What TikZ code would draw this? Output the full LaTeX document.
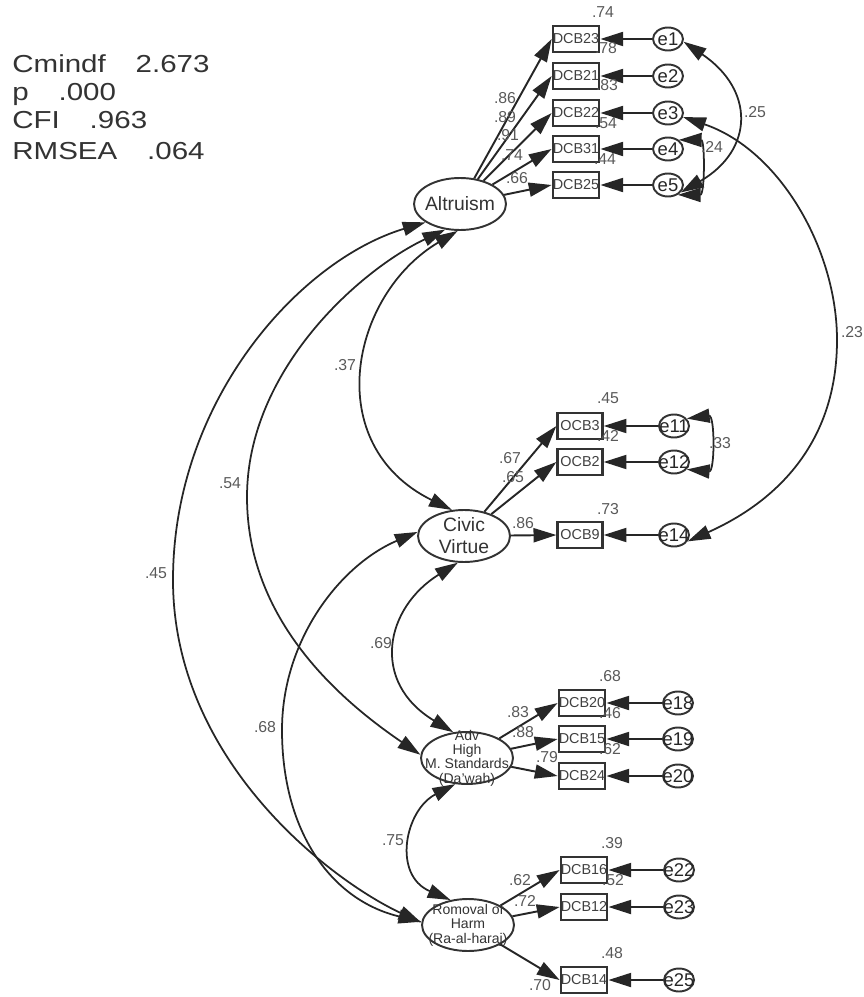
\documentclass[tikz,border=0pt]{standalone}
\usepackage{fontspec}
\setmainfont{Liberation Sans}
\newfontfamily\fitfont{Liberation Sans}[FakeStretch=1.2]
\usetikzlibrary{arrows.meta}
\usetikzlibrary{shapes.geometric}

\newcommand{\zw}[1]{\makebox[0pt]{#1}}

\tikzset{
  obs/.style={draw=black!80, line width=1.3pt, minimum width=0.9cm, minimum height=0.52cm,
    inner sep=0pt, font=\fontsize{8.2}{9}\selectfont, text=black!75},
  lat/.style={draw=black!80, line width=1.1pt, ellipse, minimum width=1.84cm,
    minimum height=1.04cm, inner sep=0pt},
  lattxt/.style={align=center, text=black!80, inner sep=0pt},
  err/.style={draw=black!80, line width=1.1pt, ellipse, minimum width=0.6cm,
    minimum height=0.46cm, inner sep=0pt, font=\fontsize{10.5}{11}\selectfont, text=black!85},
  num/.style={font=\fontsize{9}{10}\selectfont, text=black!65, inner sep=0pt},
  fitidx/.style={font=\fitfont\fontsize{14}{16}\selectfont, text=black!80, inner sep=0pt, anchor=base west},
  ldg/.style={draw=black!85, line width=1.1pt, -{Triangle[length=13pt,width=8pt]}},
  covar/.style={draw=black!85, line width=1pt,
    {Triangle[length=13pt,width=8pt]}-{Triangle[length=13pt,width=8pt]}},
}

\begin{document}
\begin{tikzpicture}[x=0.02cm,y=-0.02cm]
\useasboundingbox (0,0) rectangle (864,997);

% model fit
\node[fitidx] (cmin) at (12,72) {Cmindf\hspace{17pt}2.673};
\node[fitidx] (pval) at (12,101) {p\hspace{17pt}.000};
\node[fitidx] (cfi) at (12,129) {CFI\hspace{17pt}.963};
\node[fitidx] (rmsea) at (12,159) {RMSEA\hspace{17pt}.064};

% latent factors
\node[lat] (altr) at (460,204) {};
\node[lattxt, font=\fontsize{11}{12.5}\selectfont] (altrt) at (altr) {Altruism};
\node[lat] (civ) at (464,536) {};
\node[lattxt, font=\fontsize{11}{12.5}\selectfont] (civt) at (civ) {Civic\\Virtue};
\node[lat] (adv) at (467,758) {};
\node[lattxt, font=\fontsize{8}{8.2}\selectfont] (advt) at (adv) {Adv\\High\\M. Standards\\(Da'wah)};
\node[lat] (rem) at (468,925) {};
\node[lattxt, font=\fontsize{8}{8.2}\selectfont] (remt) at (rem) {Romoval of\\Harm\\(Ra-al-haraj)};

% items, errors, loadings
\foreach \b/\e/\bx/\ex/\y/\f in {DCB23/e1/576/668/39/altr, DCB21/e2/576/668/76/altr,
    DCB22/e3/576/668/113/altr, DCB31/e4/576/668/149/altr, DCB25/e5/576/668/185/altr,
    OCB3/e11/580/674/426/civ, OCB2/e12/580/674/462/civ, OCB9/e14/580/674/535/civ,
    DCB20/e18/582/678/703/adv, DCB15/e19/582/678/739/adv, DCB24/e20/582/678/776/adv,
    DCB16/e22/584/679/870/rem, DCB12/e23/584/679/907/rem, DCB14/e25/584/679/980/rem} {
  \node[obs] (\b) at (\bx,\y) {\b};
  \node[err] (\e) at (\ex,\y) {\zw{\e}};
  \draw[ldg] (\e) -- (\b);
  \draw[ldg] (\f) -- (\b.west);
}

% covariances
\draw[covar] (altr.265) .. controls (350,295) and (320,445) .. (civ.115);
\draw[covar] (altr.240) .. controls (360,270) and (247,370) .. (247,497)
  .. controls (247,620) and (340,700) .. (adv.176);
\draw[covar] (altr.208) .. controls (300,260) and (173,400) .. (173,580)
  .. controls (173,760) and (330,880) .. (rem.177);
\draw[covar] (civ.175) .. controls (340,565) and (282,640) .. (282,730)
  .. controls (282,830) and (330,900) .. (rem.176);
\draw[covar] (civ.257) .. controls (385,608) and (370,682) .. (adv.118);
\draw[covar] (adv.246) .. controls (405,810) and (392,875) .. (rem.125);
\draw[covar] (e1.-10) .. controls (755,90) and (754,150) .. (e5.-30);
\draw[covar] (e4.40) .. controls (705,140) and (705,195) .. (e5.-45);
\draw[covar] (e3.-15) .. controls (780,150) and (837,250) .. (837,340)
  .. controls (837,440) and (780,500) .. (e14.-25);
\draw[covar] (e11.30) .. controls (715,415) and (715,472) .. (e12.-30);

% estimates
\foreach \x/\y/\t [count=\i] in {603/12/.74, 606/48/.78, 607/85/.83, 606/123/.54, 605/159/.44,
    505/98/.86, 505/117/.89, 508/135/.91, 512/155/.74, 517/178/.66,
    608/398/.45, 608/436/.42, 608/509/.73, 510/458/.67, 513/477/.65, 523/523/.86,
    610/676/.68, 610/713/.46, 610/749/.62, 518/712/.83, 523/732/.88, 547/757/.79,
    612/843/.39, 613/880/.52, 612/953/.48, 520/880/.62, 525/901/.72, 540/985/.70,
    755/112/.25, 712/147/.24, 852/332/.23, 720/443/.33,
    345/365/.37, 230/483/.54, 156/573/.45, 265/727/.68, 381/643/.69, 393/840/.75} {
  \node[num] (n\i) at (\x,\y) {\t};
}
\end{tikzpicture}
\end{document}
